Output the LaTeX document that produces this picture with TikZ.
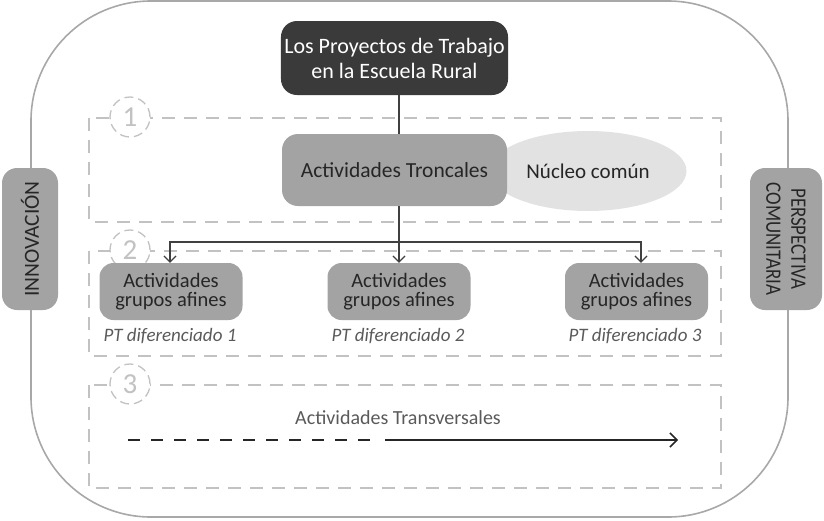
\documentclass[tikz,border=0pt]{standalone}
\usepackage{fontspec}
\setmainfont{Carlito}
\usetikzlibrary{shapes.geometric,arrows.meta}
\definecolor{darkbox}{HTML}{3A3A3A}
\definecolor{midbox}{HTML}{A3A3A3}
\definecolor{lightell}{HTML}{E2E2E2}
\definecolor{dashcol}{HTML}{C2C2C2}
\definecolor{outercol}{HTML}{A8A8A8}
\definecolor{txtdark}{HTML}{262626}
\definecolor{txtgray}{HTML}{5A5A5A}
\definecolor{linecol}{HTML}{404040}
\tikzset{
  outerframe/.style={draw=outercol, line width=1.6pt, rounded corners=120pt},
  zonebox/.style={draw=dashcol, line width=1.3pt, dash pattern=on 13pt off 9pt},
  zonenum/.style={circle, draw=dashcol, line width=1.3pt, dash pattern=on 9pt off 5pt, fill=white, minimum size=40pt, inner sep=0pt, text=dashcol, font=\fontsize{29}{29}\selectfont},
  mainbox/.style={rectangle, rounded corners=16pt, fill=darkbox, text=white, minimum width=225pt, minimum height=74pt, align=center, font=\fontsize{22}{25}\selectfont},
  troncbox/.style={rectangle, rounded corners=16pt, fill=midbox, text=txtdark, minimum width=225pt, minimum height=72pt, font=\fontsize{21.5}{24}\selectfont},
  nucleo/.style={ellipse, fill=lightell, text=txtdark, minimum width=197pt, minimum height=80pt, font=\fontsize{21}{24}\selectfont},
  groupbox/.style={rectangle, rounded corners=14pt, fill=midbox, text=txtdark, minimum width=143pt, minimum height=57pt, align=center, font=\fontsize{20.5}{19.5}\selectfont},
  ptlabel/.style={text=txtgray, font=\itshape\fontsize{19}{22}\selectfont},
  sidebox/.style={rectangle, rounded corners=15pt, fill=midbox, text=txtdark, minimum width=142pt, align=center},
  conn/.style={draw=linecol, line width=1.2pt},
  connarrow/.style={conn, -{Straight Barb[length=6pt,width=12pt,line width=1.2pt]}},
  transtxt/.style={text=txtgray, font=\fontsize{20}{22}\selectfont},
}
\begin{document}
\begin{tikzpicture}[x=1pt,y=-1pt]
\useasboundingbox (0,0) rectangle (824,520);
% outer frame
\draw[outerframe] (31,1) rectangle (788,517);
% side boxes
\node[sidebox, minimum height=56pt, rotate=90, font=\fontsize{21.5}{24}\selectfont] (innov) at (30,239) {INNOVACIÓN};
\node[sidebox, minimum height=72pt, rotate=-90, font=\fontsize{22}{25}\selectfont] (persp) at (786,239) {\scalebox{0.86}[1]{PERSPECTIVA}\\\scalebox{0.86}[1]{COMUNITARIA}};
% dashed zones
\draw[zonebox] (89,118) rectangle (721,222);
\draw[zonebox] (89,251) rectangle (721,356);
\draw[zonebox] (89,385) rectangle (721,488);
\node[zonenum] (n1) at (130,117) {1};
\node[zonenum] (n2) at (130,250) {2};
\node[zonenum] (n3) at (130,384) {3};
% main nodes
\node[mainbox] (top) at (394.5,58) {Los Proyectos de Trabajo\\en la Escuela Rural};
\node[nucleo] (nuc) at (588,171) {Núcleo común};
\node[troncbox] (tronc) at (394.5,170) {Actividades Troncales};
\node[groupbox] (g1) at (171,291.5) {Actividades\\grupos afines};
\node[groupbox] (g2) at (399,291.5) {Actividades\\grupos afines};
\node[groupbox] (g3) at (636.5,291.5) {Actividades\\grupos afines};
\node[ptlabel] (p1) at (170,336) {PT diferenciado 1};
\node[ptlabel] (p2) at (398,336) {PT diferenciado 2};
\node[ptlabel] (p3) at (635,336) {PT diferenciado 3};
% connectors
\draw[conn] ([xshift=4.5pt]top.south) -- ([xshift=4.5pt]tronc.north);
\coordinate (j) at (399,242);
\draw[conn] ([xshift=4.5pt]tronc.south) -- (j);
\draw[connarrow] (j) -| ([xshift=-1pt]g1.north);
\draw[connarrow] (j) -| ([xshift=4.5pt]g3.north);
\draw[connarrow] (j) -- (g2.north);
% transversales
\node[transtxt] (trans) at (398,418) {Actividades Transversales};
\coordinate (a0) at (128,440);
\coordinate (a1) at (372,440);
\coordinate (a2) at (385,440);
\coordinate (a3) at (678,440);
\draw[draw=txtdark, line width=1.8pt, dash pattern=on 12pt off 11pt] (a0) -- (a1);
\draw[draw=txtdark, line width=1.6pt, -{Straight Barb[length=7pt,width=14pt,line width=1.5pt]}] (a2) -- (a3);
\end{tikzpicture}
\end{document}
